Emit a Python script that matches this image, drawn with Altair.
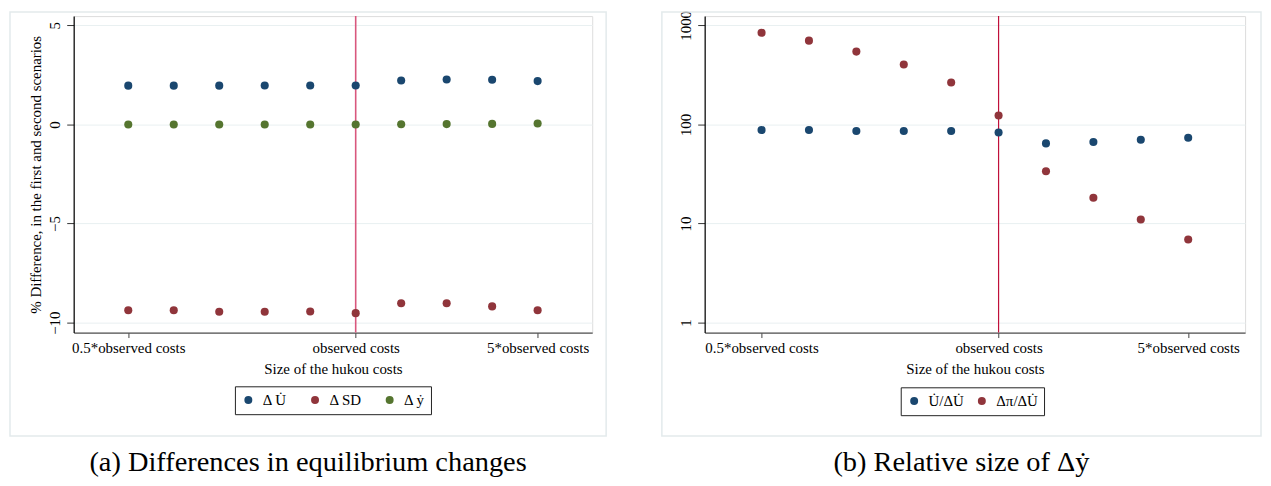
import altair as alt
import pandas as pd

# ---------------- data ----------------
idx = list(range(10))
tick_pos = [0, 5, 9]
tick_labels = ["0.5*observed costs", "observed costs", "5*observed costs"]
observed_idx = 5

left_series = ["Δ U\u0307", "Δ SD", "Δ ẏ"]
left_U = [1.96, 1.96, 1.96, 1.97, 1.97, 1.97, 2.22, 2.27, 2.26, 2.19]
left_SD = [-9.37, -9.37, -9.45, -9.45, -9.44, -9.52, -9.02, -9.02, -9.18, -9.37]
left_ydot = [0.0, 0.0, 0.0, 0.0, 0.0, 0.0, 0.01, 0.02, 0.03, 0.05]

right_series = ["U\u0307/ΔU\u0307", "Δπ/ΔU\u0307"]
right_U = [88, 88, 86, 86, 86, 83, 64.4, 66.4, 70, 73.3]
right_pi = [843, 701, 543, 403, 265, 123, 33.7, 18.2, 11.0, 6.9]

left_ticks = [-10, -5, 0, 5]
right_ticks = [1, 10, 100, 1000]

captions = ["(a) Differences in equilibrium changes", "(b) Relative size of Δẏ"]

BLUE, MAROON, GREEN = "#1a476f", "#90353b", "#55752f"
FONT = "Liberation Serif"
GRID = "#e9f0f1"
FRAME = "#e3eaec"

left_df = pd.DataFrame({
    "x": idx * 3,
    "v": left_U + left_SD + left_ydot,
    "s": [left_series[0]] * 10 + [left_series[1]] * 10 + [left_series[2]] * 10,
})
right_df = pd.DataFrame({
    "x": idx * 2,
    "v": right_U + right_pi,
    "s": [right_series[0]] * 10 + [right_series[1]] * 10,
})

label_expr = " : ".join(
    f"datum.value == {p} ? '{l}'" for p, l in zip(tick_pos, tick_labels)
) + " : ''"


def x_axis():
    return alt.Axis(
        values=tick_pos, labelExpr=label_expr, grid=False,
        title="Size of the hukou costs", titleFont=FONT, titleFontSize=15,
        titleFontWeight="normal", titleColor="black", titlePadding=6,
        labelFont=FONT, labelFontSize=15, labelColor="black", labelPadding=3,
        tickSize=5, tickColor="#444", domainColor="#555", domainWidth=1.2,
        labelFlush=False, labelOverlap=False,
    )


def panel(df, series, colors, yscale, yaxis, width, height, frame, legend_xy,
          col_pad, rule_color, rule_width, caption):
    base = alt.Chart(df)
    pts = base.mark_circle(size=66, opacity=1).encode(
        x=alt.X("x:Q", scale=alt.Scale(domain=[-1.2, 10.2], nice=False, zero=False),
                axis=x_axis()),
        y=alt.Y("v:Q", scale=yscale, axis=yaxis),
        color=alt.Color(
            "s:N",
            scale=alt.Scale(domain=series, range=colors),
            sort=series,
            legend=alt.Legend(
                title=None, orient="none", legendX=legend_xy[0], legendY=legend_xy[1],
                direction="horizontal", strokeColor="#222", fillColor="white",
                padding=6, labelFont=FONT, labelFontSize=15, labelColor="black",
                symbolType="circle", symbolSize=64, symbolStrokeWidth=0,
                labelOffset=7, columnPadding=col_pad,
            ),
        ),
    )
    one = pd.DataFrame({"x": [observed_idx]})
    rule = alt.Chart(one).mark_rule(color=rule_color, strokeWidth=rule_width).encode(
        x=alt.X("x:Q")
    )
    box = alt.Chart(pd.DataFrame({"a": [0]})).mark_rect(
        fill="white", fillOpacity=0, stroke=FRAME, strokeWidth=1.5
    ).encode(
        x=alt.value(frame[0]), x2=alt.value(frame[1]),
        y=alt.value(frame[2]), y2=alt.value(frame[3]),
    )
    return alt.layer(box, rule, pts).properties(
        width=width, height=height,
        title=alt.TitleParams(
            caption, orient="bottom", font=FONT, fontSize=28.5, fontWeight="normal",
            color="black", offset=11, anchor="middle", frame="bounds",
        ),
    )


def y_axis(values, title, fmt):
    kw = dict(
        values=values, grid=True, gridColor=GRID, gridWidth=1,
        labelFont=FONT, labelFontSize=15, labelColor="black", labelAngle=270,
        labelAlign="center", labelBaseline="bottom", labelPadding=4,
        tickSize=7, tickColor="#333", domainColor="black", domainWidth=1.2,
        titleFont=FONT, titleFontSize=15, titleFontWeight="normal",
        titleColor="black", titlePadding=4, format=fmt,
    )
    kw["title"] = title if title else ""
    return alt.Axis(**kw)


left = panel(
    left_df, left_series, [BLUE, MAROON, GREEN],
    alt.Scale(domain=[-10.5, 5.47], nice=False, zero=False),
    y_axis(left_ticks, "% Difference, in the first and second scenarios", "d"),
    521, 318, (-64, 535, -4, 422), (162, 372), 20, "#d9577d", 1.6, captions[0],
)
right = panel(
    right_df, right_series, [BLUE, MAROON],
    alt.Scale(type="log", domain=[0.794, 1240], nice=False),
    y_axis(right_ticks, None, "d"),
    543, 318, (-43, 559, -4, 422), (197, 373), 10, "#c0103a", 1.2, captions[1],
)

chart = (
    alt.hconcat(left, right, spacing=52)
    .resolve_scale(color="independent", x="independent", y="independent")
    .resolve_legend(color="independent")
    .properties(padding=0)
    .configure_view(strokeWidth=0)
    .configure_title(font=FONT, fontSize=28.5, fontWeight="normal", color="black")
    .configure(background="white")
)

chart.save("out.html", embed_options={"renderer": "svg", "actions": False})
